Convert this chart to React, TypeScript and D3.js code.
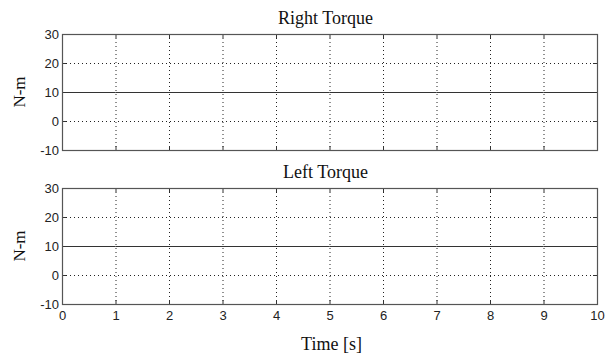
import React, { useEffect, useRef } from "react";
import * as d3 from "d3";

// data
const timeValues = [0, 1, 2, 3, 4, 5, 6, 7, 8, 9, 10];
const rightTorque = [10, 10, 10, 10, 10, 10, 10, 10, 10, 10, 10];
const leftTorque = [10, 10, 10, 10, 10, 10, 10, 10, 10, 10, 10];
const xTicks = [0, 1, 2, 3, 4, 5, 6, 7, 8, 9, 10];
const yTicks = [-10, 0, 10, 20, 30];
const panelTitles = ["Right Torque", "Left Torque"];

const W = 605;
const H = 356;

export default function App() {
  const ref = useRef<SVGSVGElement>(null);

  useEffect(() => {
    const svg = d3.select(ref.current);
    svg.selectAll("*").remove();

    const left = 62, right = 597;
    const panels = [
      { top: 34, bottom: 150, title: panelTitles[0], values: rightTorque },
      { top: 188, bottom: 304, title: panelTitles[1], values: leftTorque },
    ];
    const x = d3.scaleLinear().domain([0, 10]).range([left, right]);
    const sans = "Liberation Sans, Arial, sans-serif";
    const serif = "Liberation Serif, Times New Roman, serif";

    panels.forEach((p, pi) => {
      const y = d3.scaleLinear().domain([-10, 30]).range([p.bottom, p.top]);
      const g = svg.append("g");

      // dotted grid
      g.selectAll(".vgrid")
        .data(xTicks.slice(1, -1))
        .join("line")
        .attr("x1", d => x(d) + 0.5).attr("x2", d => x(d) + 0.5)
        .attr("y1", p.top).attr("y2", p.bottom)
        .attr("stroke", "#222").attr("stroke-width", 1)
        .attr("stroke-dasharray", "1,3");
      g.selectAll(".hgrid")
        .data(yTicks.slice(1, -1))
        .join("line")
        .attr("y1", d => y(d) + 0.5).attr("y2", d => y(d) + 0.5)
        .attr("x1", left).attr("x2", right)
        .attr("stroke", "#222").attr("stroke-width", 1)
        .attr("stroke-dasharray", "1,3");

      // inward ticks on every side
      const tl = 4;
      xTicks.forEach(t => {
        g.append("line").attr("x1", x(t) + 0.5).attr("x2", x(t) + 0.5)
          .attr("y1", p.bottom).attr("y2", p.bottom - tl).attr("stroke", "#333");
        g.append("line").attr("x1", x(t) + 0.5).attr("x2", x(t) + 0.5)
          .attr("y1", p.top).attr("y2", p.top + tl).attr("stroke", "#333");
      });
      yTicks.forEach(t => {
        g.append("line").attr("y1", y(t) + 0.5).attr("y2", y(t) + 0.5)
          .attr("x1", left).attr("x2", left + tl).attr("stroke", "#333");
        g.append("line").attr("y1", y(t) + 0.5).attr("y2", y(t) + 0.5)
          .attr("x1", right).attr("x2", right - tl).attr("stroke", "#333");
      });

      // torque line
      const line = d3.line<number>()
        .x((_, i) => x(timeValues[i]))
        .y(d => y(d) + 0.5);
      g.append("path").datum(p.values).attr("d", line)
        .attr("fill", "none").attr("stroke", "#333").attr("stroke-width", 1);

      // frame
      g.append("rect")
        .attr("x", left + 0.5).attr("y", p.top + 0.5)
        .attr("width", right - left).attr("height", p.bottom - p.top)
        .attr("fill", "none").attr("stroke", "#555").attr("stroke-width", 1.2);

      g.selectAll(".ylab")
        .data(yTicks)
        .join("text")
        .attr("x", left - 3).attr("y", d => y(d) + 5)
        .attr("text-anchor", "end")
        .attr("font-family", sans)
        .attr("font-size", 13).attr("fill", "#222")
        .text(d => d);

      g.append("text")
        .attr("x", (left + right) / 2 - 4).attr("y", p.top - 10)
        .attr("text-anchor", "middle")
        .attr("font-family", serif)
        .attr("font-size", 18).attr("fill", "#111")
        .text(p.title);

      g.append("text")
        .attr("transform", `translate(25, ${(p.top + p.bottom) / 2}) rotate(-90)`)
        .attr("text-anchor", "middle")
        .attr("font-family", serif)
        .attr("font-size", 17).attr("fill", "#111")
        .text("N-m");

      if (pi === 1) {
        g.selectAll(".xlab")
          .data(xTicks)
          .join("text")
          .attr("x", d => x(d) + 0.5).attr("y", p.bottom + 16)
          .attr("text-anchor", "middle")
          .attr("font-family", sans)
          .attr("font-size", 13).attr("fill", "#222")
          .text(d => d);
        g.append("text")
          .attr("x", (left + right) / 2 + 2).attr("y", p.bottom + 46)
          .attr("text-anchor", "middle")
          .attr("font-family", serif)
          .attr("font-size", 18).attr("fill", "#111")
          .text("Time [s]");
      }
    });
  }, []);

  return (
    <svg ref={ref} width={W} height={H}
      style={{ position: "absolute", left: 0, top: 0, background: "#fff" }} />
  );
}
